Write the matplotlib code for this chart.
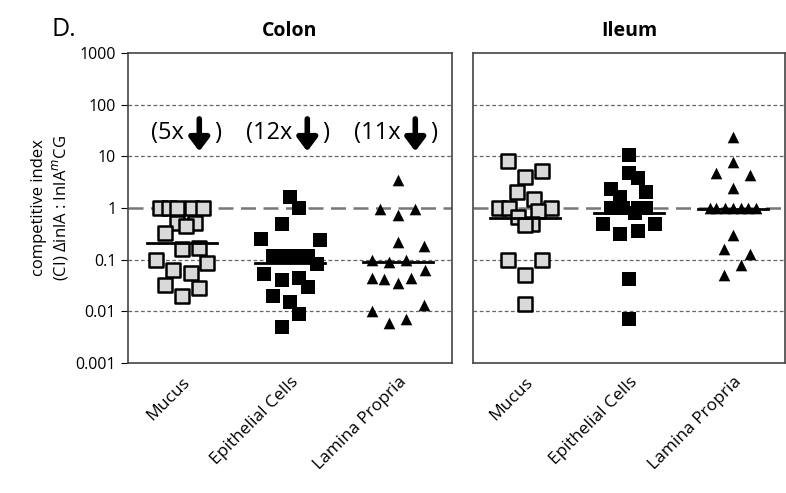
import numpy as np
import matplotlib
matplotlib.use("Agg")
from matplotlib import pyplot as plt

categories = ["Mucus", "Epithelial Cells", "Lamina Propria"]

# colon values and horizontal jitter (pixels from category centre)
colonMucus = [1, 1, 1, 1, 1, 0.51, 0.51, 0.45, 0.33, 0.16, 0.17, 0.1, 0.085, 0.063, 0.055, 0.032, 0.028, 0.02]
colonMucusDx = [-22, -13, -5, 10, 21, -5, 13, 4, -17, 0, 17, -26, 25, -9, 9, -17, 17, 0]
colonEpi = [1.6, 1.0, 0.5, 0.25, 0.24, 0.12, 0.12, 0.12, 0.12, 0.082, 0.053, 0.04, 0.045, 0.03, 0.02, 0.015, 0.009, 0.005]
colonEpiDx = [0, 9, -8, -29, 30, -17, -6, 7, 18, 27, -26, -8, 9, 18, -17, 0, 9, -8]
colonLP = [3.5, 0.95, 0.95, 0.73, 0.22, 0.18, 0.1, 0.09, 0.1, 0.045, 0.042, 0.035, 0.045, 0.063, 0.01, 0.006, 0.007, 0.013]
colonLPDx = [0, -18, 17, 0, 0, 26, -26, -9, 8, -26, -14, 0, 13, 27, -26, -9, 8, 26]
colonMedian = [0.21, 0.085, 0.09]

ileumMucus = [8, 5.2, 4, 2, 1.5, 1, 1, 1, 0.88, 0.67, 0.5, 0.47, 0.1, 0.1, 0.05, 0.014]
ileumMucusDx = [-17, 17, 0, -8, 9, -26, -16, 26, 13, -7, 7, 0, -17, 17, 0, 0]
ileumEpi = [10.5, 4.7, 3.8, 2.3, 2.0, 1.6, 1, 1, 1, 1, 0.8, 0.5, 0.5, 0.31, 0.36, 0.042, 0.007]
ileumEpiDx = [0, 0, 9, -18, 17, -9, -18, -6, 17, 9, 6, -26, 26, -9, 9, 0, 0]
ileumLP = [24, 7.8, 4.7, 4.3, 2.4, 1, 1, 1, 1, 1, 1, 1, 0.3, 0.16, 0.13, 0.08, 0.05]
ileumLPDx = [0, 0, -17, 17, 0, -23, -17, -8, 0, 8, 15, 23, 0, -9, 17, 8, -9]
ileumMedian = [0.64, 0.8, 0.95]

foldDown = ["(5x", "(12x", "(11x"]

plt.rcParams['font.family'] = ['Open Sans', 'DejaVu Sans']
fig = plt.figure(figsize=(7.86, 4.93), dpi=100)
W, H = 786.0, 493.0
axC = fig.add_axes([128 / W, 1 - 363 / H, 324 / W, 310 / H])
axI = fig.add_axes([473 / W, 1 - 363 / H, 312 / W, 310 / H])

styles = [dict(marker="s", s=90, facecolor="#d9d9d9", edgecolor="black", linewidth=1.8),
          dict(marker="s", s=90, facecolor="black", edgecolor="black", linewidth=0),
          dict(marker="^", s=70, facecolor="black", edgecolor="black", linewidth=0)]

def drawPanel(ax, groups, medians, title, pxPerCat):
    ax.set_yscale("log")
    ax.set_ylim(0.001, 1000)
    ax.set_xlim(-0.5, 2.5)
    for v in [0.01, 0.1, 10, 100]:
        ax.axhline(v, color="#666666", linestyle=(0, (3, 2)), linewidth=0.9, zorder=0)
    ax.axhline(1, color="#777777", linestyle=(0, (6, 3)), linewidth=1.8, zorder=0)
    half = 35.0 / pxPerCat
    for i, (vals, dx) in enumerate(groups):
        xs = i + np.array(dx) / pxPerCat
        ax.scatter(xs, vals, zorder=3, **styles[i])
        ax.plot([i - half, i + half], [medians[i]] * 2, color="black", linewidth=2, zorder=4)
    ax.set_xticks(range(3))
    ax.set_xticklabels(categories, rotation=45, ha="right", rotation_mode="anchor", fontsize=12.5)
    ax.tick_params(axis="x", length=0, pad=8)
    ax.minorticks_off()
    ax.set_title(title, fontsize=14, fontweight="bold", pad=12)
    for s in ax.spines.values():
        s.set_color("#444444")
        s.set_linewidth(1.2)

drawPanel(axC, [(colonMucus, colonMucusDx), (colonEpi, colonEpiDx), (colonLP, colonLPDx)],
          colonMedian, "Colon", 108)
drawPanel(axI, [(ileumMucus, ileumMucusDx), (ileumEpi, ileumEpiDx), (ileumLP, ileumLPDx)],
          ileumMedian, "Ileum", 104)

axC.set_yticks([0.001, 0.01, 0.1, 1, 10, 100, 1000])
axC.set_yticklabels(["0.001", "0.01", "0.1", "1", "10", "100", "1000"], fontsize=11.5)
axC.tick_params(axis="y", length=5, direction="out")
axI.set_yticks([0.001, 0.01, 0.1, 1, 10, 100, 1000])
axI.tick_params(axis="y", length=0, labelleft=False)
axC.set_ylabel("competitive index\n(CI) \u0394inlA : InlA$^{m}$CG", fontsize=12)

for i, lab in enumerate(foldDown):
    axC.text(i + 0.02, 28, lab, fontsize=17, ha="right", va="center")
    axC.annotate("", xy=(i + 0.16, 11), xytext=(i + 0.16, 60),
                 arrowprops=dict(arrowstyle="-|>,head_width=0.6,head_length=0.8", color="black", linewidth=4))
    axC.text(i + 0.3, 28, ")", fontsize=17, ha="left", va="center")

fig.text(52 / W, 1 - 30 / H, "D.", fontsize=18, ha="left", va="center")

fig.savefig("out.png", dpi=100)
